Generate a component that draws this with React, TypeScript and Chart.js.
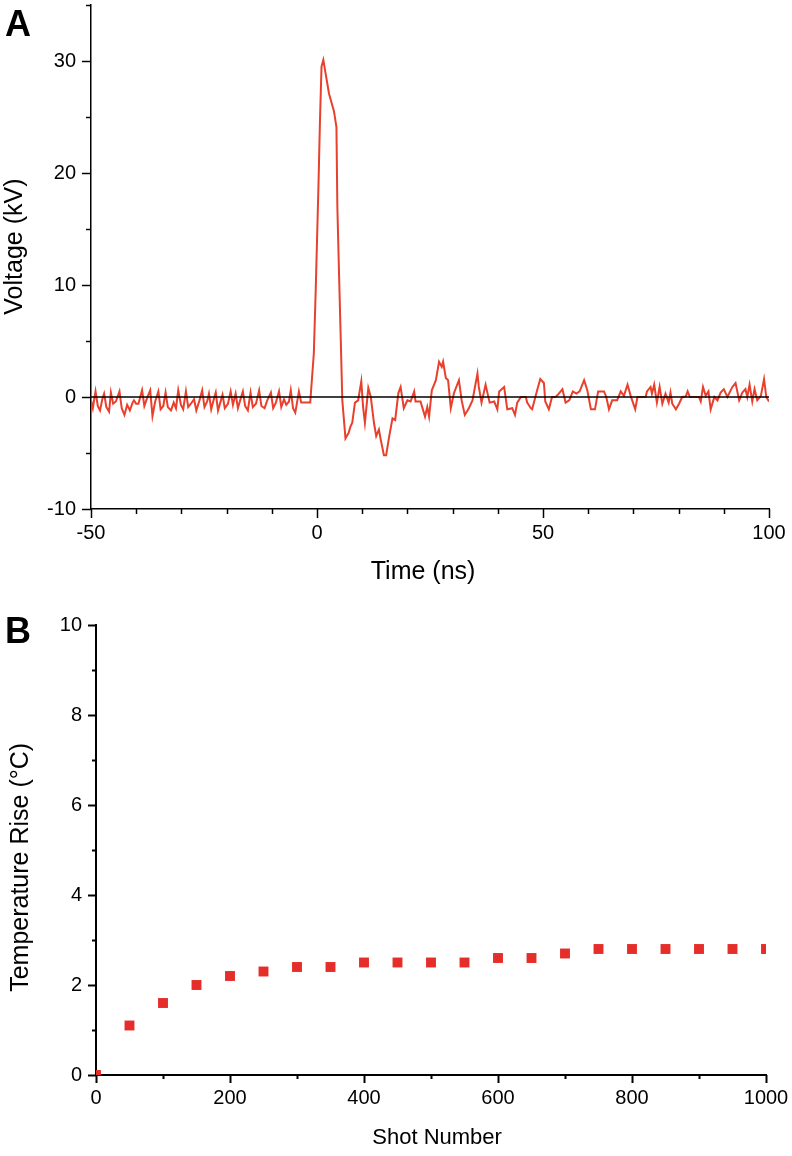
import React, { useEffect, useRef } from 'react';
import { Chart, registerables } from 'chart.js';

Chart.register(...registerables);

// ---------- Panel A data: voltage trace ----------
const timeNs: number[] = [
  -50, -49.6, -49.0, -48.5, -48.0, -47.5, -47.1, -46.6, -46.0, -45.6, -45.1, -44.5, -43.7, -43.2, -42.6, -42.0,
  -41.4, -40.8, -40.5, -40.0, -39.5, -38.7, -38.2, -37.6, -36.9, -36.4, -35.8, -35.1, -34.6, -34.0, -33.5, -33.0,
  -32.3, -31.7, -31.2, -30.7, -30.1, -29.6, -29.0, -28.5, -27.9, -27.2, -26.7, -26.0, -25.4, -24.9, -24.3, -23.9,
  -23.4, -22.9, -22.4, -21.9, -21.4, -20.9, -20.4, -19.7, -19.1, -18.6, -18.0, -17.5, -17.0, -16.4, -15.9, -15.3,
  -14.7, -14.2, -13.5, -12.8, -12.3, -11.6, -11.0, -10.2, -9.7, -9.1, -8.4, -7.9, -7.3, -6.8, -6.2, -5.8,
  -5.3, -4.8, -4.0, -3.5, -2.8, -2.2, -1.5,
  -0.7, -0.3, 0.3, 0.66, 1.0, 1.4, 1.9, 2.65, 3.76, 4.3, 4.5, 4.87, 5.2, 5.6, 6.3, 7.0, 7.4, 7.8, 8.4, 9.1,
  9.8, 10.2, 10.6, 11.35, 11.9, 12.6, 13.1, 13.7, 14.1, 14.8, 15.3, 15.9, 16.7, 17.3, 18.0, 18.5, 19.2, 20.0,
  20.7, 21.5, 21.8, 22.9, 23.9, 24.4, 24.8, 25.4, 26.3, 27.0, 27.6, 27.9, 28.5, 29.0, 29.6, 30.3, 31.4, 32.0,
  32.7, 33.6, 34.4, 35.5, 35.8, 36.4, 37.3, 38.2, 39.2, 39.9, 40.3, 41.4, 42.1, 43.2, 43.8, 44.3, 45.1, 46.2,
  46.5, 47.3, 47.6, 48.7, 49.4, 50.2, 50.5, 51.3, 52.0, 52.8, 53.5, 54.3, 55.0, 55.8, 56.6, 57.4, 58.1, 59.1,
  59.8, 60.6, 61.5, 62.2, 63.5, 64.0, 64.6, 65.3, 66.4, 67.2, 67.9, 68.7, 69.4, 70.4, 70.9, 72.7, 73.0, 73.8,
  74.1, 74.6, 75.2, 75.8, 76.4, 77.1, 77.8, 78.2, 78.6, 79.4, 80.1, 80.8, 81.6, 82.0, 82.5, 84.5, 84.9, 85.4,
  86.0, 86.6, 87.1, 87.9, 88.6, 89.3, 90.0, 90.8, 91.9, 92.6, 93.4, 94.1, 94.8, 95.2, 95.7, 96.3, 96.8, 97.4,
  98.2, 98.9, 99.4, 100,
];

const voltageKv: number[] = [
  -0.3, -1.0, 0.5, -0.8, -1.2, -0.2, 0.3, -0.9, -1.3, 0.4, -0.6, -0.4, 0.5, -1.0, -1.6, -0.7,
  -1.2, -0.5, -0.3, -0.6, -0.6, 0.6, -0.8, -0.1, 0.6, -1.7, -0.4, 0.5, -1.1, -0.8, 0.4, -0.9,
  -1.2, -0.5, -1.0, 0.6, -0.7, -1.1, 0.5, -0.9, -0.6, -0.2, -1.2, -0.3, 0.6, -0.9, -0.4, 0.3,
  -1.1, -0.3, 0.4, -1.2, -0.5, 0.2, -1.0, -0.6, 0.5, -0.7, 0.3, -1.0, -0.3, 0.5, -0.8, -1.2,
  0.4, -0.9, -0.6, 0.6, -0.8, -1.0, -0.3, 0.4, -1.0, -0.5, 0.5, -0.9, -0.2, -0.7, -0.4, 0.6,
  -1.0, -1.4, 0.5, -0.5, -0.5, -0.5, -0.5,
  3.9, 9.3, 18.5, 24.7, 29.5, 30.1, 28.9, 27.1, 25.5, 24.1, 17.0, 11.1, 6.0, -0.3, -3.7, -3.2, -2.65, -2.3, -0.5, -0.3,
  1.4, -0.9, -2.3, 0.8, 0.0, -2.3, -3.5, -2.9, -3.8, -5.2, -5.2, -3.7, -1.9, -2.05, 0.35, 0.9, -1.0, -0.3,
  -0.4, 0.5, -0.4, -0.4, -1.75, -0.9, -1.75, 0.6, 1.5, 3.15, 2.7, 3.15, 1.7, 1.5, -1.0, 0.35, 1.5, -0.3,
  -1.6, -1.0, -0.3, 2.1, 0.9, -0.5, 1.1, -0.5, -0.4, -1.1, 0.5, 0.9, -1.1, -1.0, -1.6, -0.5, 0.0, 0.0,
  -0.5, -1.0, -1.1, 0.6, 1.6, 1.25, -0.4, -1.1, 0.0, 0.0, 0.3, 0.7, -0.5, -0.3, 0.5, 0.3, 0.5, 1.5,
  0.6, -1.1, -1.1, 0.5, 0.5, 0.0, -1.1, -0.3, -0.3, 0.5, 0.1, 1.1, 0.1, -1.1, 0.0, 0.0, 0.5, 0.9,
  0.3, 1.1, -0.5, 0.9, -0.6, 0.3, -0.5, 0.4, -0.6, -1.1, -0.6, 0.0, 0.05, 0.5, 0.0, 0.0, -0.4, 0.9,
  0.1, 0.5, -1.1, 0.0, -0.3, 0.4, 0.7, 0.0, 0.9, 1.25, -0.3, 0.4, 0.7, 0.0, 1.1, -0.4, 0.7, -0.3,
  0.1, 1.6, 0.0, -0.4,
];

const timeMajorTicks = [-50, 0, 50, 100];
const timeMinorTicks = [-40, -30, -20, -10, 10, 20, 30, 40, 60, 70, 80, 90];
const voltageMajorTicks = [-10, 0, 10, 20, 30];
const voltageMinorTicks = [-5, 5, 15, 25, 35];

// ---------- Panel B data: temperature rise ----------
const shotNumber: number[] = [0, 50, 100, 150, 200, 250, 300, 350, 400, 450, 500, 550, 600, 650, 700, 750, 800, 850, 900, 950, 1000];
const temperatureRise: number[] = [0, 1.1, 1.6, 2.0, 2.2, 2.3, 2.4, 2.4, 2.5, 2.5, 2.5, 2.5, 2.6, 2.6, 2.7, 2.8, 2.8, 2.8, 2.8, 2.8, 2.8];

const shotMajorTicks = [0, 200, 400, 600, 800, 1000];
const shotMinorTicks = [100, 300, 500, 700, 900];
const tempMajorTicks = [0, 2, 4, 6, 8, 10];
const tempMinorTicks = [1, 3, 5, 7, 9];

const FONT = "'Liberation Sans', Arial, Helvetica, sans-serif";

const tickPlugin = {
  id: 'customTicks',
  afterDraw(chart: any, _args: any, opts: any) {
    const { ctx } = chart;
    const xs = chart.scales.x;
    const ys = chart.scales.y;
    ctx.save();
    ctx.strokeStyle = '#000';
    ctx.lineWidth = opts.lineWidth || 1.5;
    ctx.lineCap = 'butt';
    const bottom = xs.top;
    const left = ys.right;
    const drawX = (vals: number[], len: number) => {
      vals.forEach((v) => {
        const px = Math.round(xs.getPixelForValue(v)) + 0.5;
        ctx.beginPath();
        ctx.moveTo(px, bottom);
        ctx.lineTo(px, bottom + len);
        ctx.stroke();
      });
    };
    const drawY = (vals: number[], len: number) => {
      vals.forEach((v) => {
        const py = Math.round(ys.getPixelForValue(v)) + 0.5;
        ctx.beginPath();
        ctx.moveTo(left, py);
        ctx.lineTo(left - len, py);
        ctx.stroke();
      });
    };
    drawX(opts.xMajor, opts.majorLen);
    drawX(opts.xMinor, opts.minorLen);
    drawY(opts.yMajor, opts.majorLen);
    drawY(opts.yMinor, opts.minorLen);
    ctx.restore();
  },
};

function fixSize(size: number, horizontal: boolean) {
  return (s: any) => {
    if (horizontal) s.height = size;
    else s.width = size;
    s.paddingTop = 0;
    s.paddingBottom = 0;
    s.paddingLeft = 0;
    s.paddingRight = 0;
  };
}

const plainLabel = (v: any) => String(v);

function PanelA() {
  const ref = useRef<HTMLCanvasElement>(null);
  useEffect(() => {
    if (!ref.current) return;
    const chart = new Chart(ref.current, {
      type: 'line',
      data: {
        datasets: [
          {
            data: [
              { x: timeNs[0], y: 0 },
              { x: timeNs[timeNs.length - 1], y: 0 },
            ],
            borderColor: '#000',
            borderWidth: 1.5,
            pointRadius: 0,
          },
          {
            data: timeNs.map((t, i) => ({ x: t, y: voltageKv[i] })),
            borderColor: '#e8402c',
            borderWidth: 2,
            pointRadius: 0,
            tension: 0,
          },
        ],
      },
      options: {
        animation: false,
        responsive: false,
        maintainAspectRatio: false,
        layout: { padding: { top: 5, right: 23, left: 0, bottom: 0 } },
        plugins: {
          legend: { display: false },
          tooltip: { enabled: false },
          customTicks: {
            xMajor: timeMajorTicks,
            xMinor: timeMinorTicks,
            yMajor: voltageMajorTicks,
            yMinor: voltageMinorTicks,
            majorLen: 9,
            minorLen: 5,
            lineWidth: 1.5,
          },
        } as any,
        scales: {
          x: {
            type: 'linear',
            min: -50,
            max: 100,
            ticks: { stepSize: 50, padding: 12, color: '#000', font: { family: FONT, size: 20 }, maxRotation: 0, includeBounds: false, callback: plainLabel },
            grid: { drawOnChartArea: false, drawTicks: false },
            border: { color: '#000', width: 1.5 },
            title: { display: true, text: 'Time (ns)  ', color: '#000', font: { family: FONT, size: 25 }, padding: { top: 0, bottom: 13 } },
            afterFit: fixSize(91, true),
          },
          y: {
            type: 'linear',
            min: -10,
            max: 35,
            ticks: { stepSize: 10, padding: 15, color: '#000', font: { family: FONT, size: 20 }, includeBounds: false, callback: plainLabel },
            grid: { drawOnChartArea: false, drawTicks: false },
            border: { color: '#000', width: 1.5 },
            title: { display: true, text: '   Voltage (kV)', color: '#000', font: { family: FONT, size: 25 }, padding: { top: 0, bottom: 0 } },
            afterFit: fixSize(91, false),
          },
        },
      },
      plugins: [tickPlugin],
    } as any);
    return () => chart.destroy();
  }, []);
  return <canvas ref={ref} width={792} height={600} style={{ position: 'absolute', left: 0, top: 0, width: 792, height: 600 }} />;
}

function PanelB() {
  const ref = useRef<HTMLCanvasElement>(null);
  useEffect(() => {
    if (!ref.current) return;
    const chart = new Chart(ref.current, {
      type: 'scatter',
      data: {
        datasets: [
          {
            data: shotNumber.map((s, i) => ({ x: s, y: temperatureRise[i] })),
            pointStyle: 'rect',
            pointRadius: 7,
            backgroundColor: '#e52d2a',
            borderWidth: 0,
          },
        ],
      },
      options: {
        animation: false,
        responsive: false,
        maintainAspectRatio: false,
        layout: { padding: { top: 35, right: 26, left: 0, bottom: 0 } },
        plugins: {
          legend: { display: false },
          tooltip: { enabled: false },
          customTicks: {
            xMajor: shotMajorTicks,
            xMinor: shotMinorTicks,
            yMajor: tempMajorTicks,
            yMinor: tempMinorTicks,
            majorLen: 8,
            minorLen: 4,
            lineWidth: 2,
          },
        } as any,
        scales: {
          x: {
            type: 'linear',
            min: 0,
            max: 1000,
            ticks: { stepSize: 200, padding: 11, color: '#000', font: { family: FONT, size: 20 }, maxRotation: 0, includeBounds: false, callback: plainLabel },
            grid: { drawOnChartArea: false, drawTicks: false },
            border: { color: '#000', width: 2 },
            title: { display: true, text: '  Shot Number', color: '#000', font: { family: FONT, size: 22 }, padding: { top: 0, bottom: 5 } },
            afterFit: fixSize(81, true),
          },
          y: {
            type: 'linear',
            min: 0,
            max: 10,
            ticks: { stepSize: 2, padding: 14, color: '#000', font: { family: FONT, size: 20 }, includeBounds: false, callback: plainLabel },
            grid: { drawOnChartArea: false, drawTicks: false },
            border: { color: '#000', width: 2 },
            title: { display: true, text: 'Temperature Rise (°C)     ', color: '#000', font: { family: FONT, size: 25 }, padding: { top: 6, bottom: 0 } },
            afterFit: fixSize(96, false),
          },
        },
      },
      plugins: [tickPlugin],
    } as any);
    return () => chart.destroy();
  }, []);
  return <canvas ref={ref} width={792} height={566} style={{ position: 'absolute', left: 0, top: 590, width: 792, height: 566 }} />;
}

const letterStyle: React.CSSProperties = {
  position: 'absolute',
  left: 5,
  fontFamily: FONT,
  fontWeight: 'bold',
  fontSize: 36,
  lineHeight: '36px',
  color: '#000',
};

export default function App() {
  return (
    <div style={{ position: 'absolute', left: 0, top: 0, width: 792, height: 1156, background: '#fff', overflow: 'hidden' }}>
      <PanelA />
      <PanelB />
      <div style={{ ...letterStyle, top: 6 }}>A</div>
      <div style={{ ...letterStyle, top: 613 }}>B</div>
    </div>
  );
}
